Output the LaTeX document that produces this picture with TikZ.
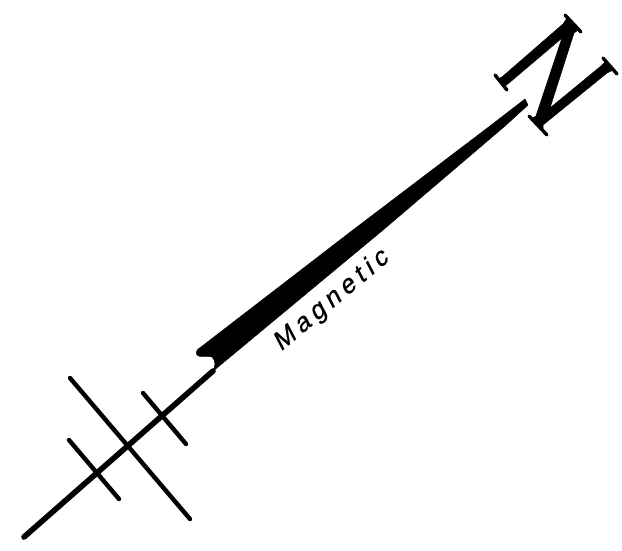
\documentclass[tikz,border=0pt]{standalone}
\usepackage{fontspec}
\setmainfont{Liberation Sans}
\newfontfamily\labelfont[LetterSpace=20,FakeSlant=0.22,FakeBold=0.8]{Liberation Sans}
\tikzset{
  shaft/.style={line width=5.6pt,line cap=round,black},
  tick/.style={line width=4.4pt,line cap=round,black},
  serif/.style={line width=3.4pt,line cap=round,black},
  solid fill/.style={fill=black,draw=black,line width=.5pt,line join=round}
}
\begin{document}
\begin{tikzpicture}[x=1pt,y=-1pt]
\useasboundingbox (0,0) rectangle (622,551);
% bearing line and crossing ticks
\coordinate (lineStart) at (24,537);
\coordinate (lineEnd) at (213,371);
\draw[shaft] (lineStart) -- (lineEnd);
\draw[tick] (70,378) -- (190,519);
\draw[tick] (143,393) -- (186,444);
\draw[tick] (69,440) -- (119,499);
% needle
\fill[solid fill] (197,355) .. controls (195,351) and (198,349) .. (201,347)
  -- (353,230) -- (490,126) -- (525,99) -- (528,105) -- (505,126) -- (383,230)
  -- (212,372) .. controls (216,368) and (216,360) .. (212,357)
  .. controls (208,355) and (199,358) .. (197,355) -- cycle;
% letter N
\fill[solid fill] (498,79) -- (502,77) -- (563,24) -- (567,18) -- (578,30) -- (574,33)
  -- (550,108) -- (601,66) -- (606,61) -- (613,70) -- (607,73)
  -- (543,125) -- (543,132) -- (533,118) -- (536,116) -- (562,38) -- (509,83) -- (505,86) -- cycle;
\draw[serif] (495,75) -- (507,90);
\draw[serif] (565,15) -- (581,32);
\draw[serif] (603,58) -- (617,74);
\draw[serif] (529,116) -- (547,135);
% label
\node[rotate=40,inner sep=0pt] (magnetic) at (331,301) {\labelfont\fontsize{26}{28}\selectfont Magnetic};
\end{tikzpicture}
\end{document}
